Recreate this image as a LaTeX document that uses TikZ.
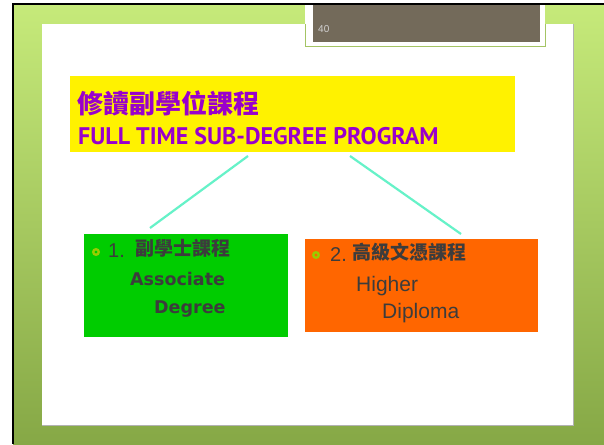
\documentclass[tikz,border=0pt]{standalone}
\usepackage{fontspec}
\setmainfont{Liberation Sans}
\newfontfamily\cjk{Noto Sans CJK TC}
\newfontfamily\verd{DejaVu Sans}
\newfontfamily\ptsans{PT Sans}
\usetikzlibrary{positioning}
\definecolor{frametop}{HTML}{C6EA7A}
\definecolor{framebot}{HTML}{86A846}
\definecolor{tabbrown}{HTML}{736A5A}
\definecolor{tabline}{HTML}{A4C464}
\definecolor{titlepurple}{HTML}{9900CC}
\definecolor{boxgreen}{HTML}{00CC00}
\definecolor{boxorange}{HTML}{FF6600}
\definecolor{boxgray}{HTML}{3C3C3C}
\definecolor{linkcyan}{HTML}{66F2C8}
\definecolor{bulletgreen}{HTML}{99CC00}
\tikzset{box/.style={anchor=north west, inner sep=0pt, outer sep=0pt}}
\tikzset{link/.style={draw=linkcyan, line width=2.2pt}}
\tikzset{bullet/.style={draw=bulletgreen, line width=2.3pt}}
\tikzset{txt/.style={anchor=base west, inner sep=0pt, text=boxgray}}

\begin{document}
\begin{tikzpicture}[x=1pt,y=-1pt]
      \useasboundingbox (0,0) rectangle (604,444);
      % frame and slide area
      \shade[top color=frametop, bottom color=framebot] (13,4) rectangle (604,444);
      \fill[white] (42,24) rectangle (573,425);
      \draw[gray!60] (42,425) -- (573,425) -- (573,24);
      % page number tab
      \fill[white] (305,5) rectangle (545,46);
      \draw[tabline] (305,24) -- (305,46) -- (545,46) -- (545,24);
      \fill[tabbrown] (313,5) rectangle (540,42.5);
      \node[anchor=base west, inner sep=0pt, text=gray!35, font=\fontsize{10}{10}\selectfont] (pagenum) at (318,33) {40};
      \draw[line width=2pt] (13,444) -- (13,4) -- (604,4);
      % boxes
      \node[box, fill=yellow, minimum width=445pt, minimum height=76pt] (title) at (70,76) {};
      \node[box, fill=boxgreen, minimum width=204pt, minimum height=103pt] (assoc) at (84,234) {};
      \node[box, fill=boxorange, minimum width=233pt, minimum height=93pt] (hd) at (305,239) {};
      \node[txt, text=titlepurple, font=\cjk\bfseries\fontsize{26}{26}\selectfont] (titlezh) at (77,113) {修讀副學位課程};
      \node[txt, text=titlepurple, font=\ptsans\bfseries\fontsize{24}{24}\selectfont] (titleen) at (78,144) {FULL TIME SUB-DEGREE PROGRAM};
      % connectors
      \coordinate (ta) at (248,156);
      \coordinate (tb) at (350,156);
      \coordinate (ga) at (150,228);
      \coordinate (ob) at (461,234);
      \draw[link] (ta) -- (ga);
      \draw[link] (tb) -- (ob);
      % texts in boxes
      \draw[bullet] (96,252) circle (2.8);
      \node[txt, font=\fontsize{20}{20}\selectfont] (num1) at (108,257) {1.};
      \node[txt, font=\cjk\bfseries\fontsize{19}{19}\selectfont] (assoczh) at (135,255) {副學士課程};
      \node[txt, font=\verd\bfseries\fontsize{17.5}{17.5}\selectfont] (assoc1) at (130,285) {Associate};
      \node[txt, font=\verd\bfseries\fontsize{17.5}{17.5}\selectfont] (assoc2) at (154,313) {Degree};
      \draw[bullet] (316,255) circle (2.8);
      \node[txt, font=\fontsize{20}{20}\selectfont] (num2) at (330,261) {2.};
      \node[txt, font=\cjk\bfseries\fontsize{19}{19}\selectfont] (hdzh) at (352,259) {高級文憑課程};
      \node[txt, font=\fontsize{21}{21}\selectfont] (hd1) at (356,291) {Higher};
      \node[txt, font=\fontsize{21}{21}\selectfont] (hd2) at (382,318) {Diploma};
\end{tikzpicture}
\end{document}
